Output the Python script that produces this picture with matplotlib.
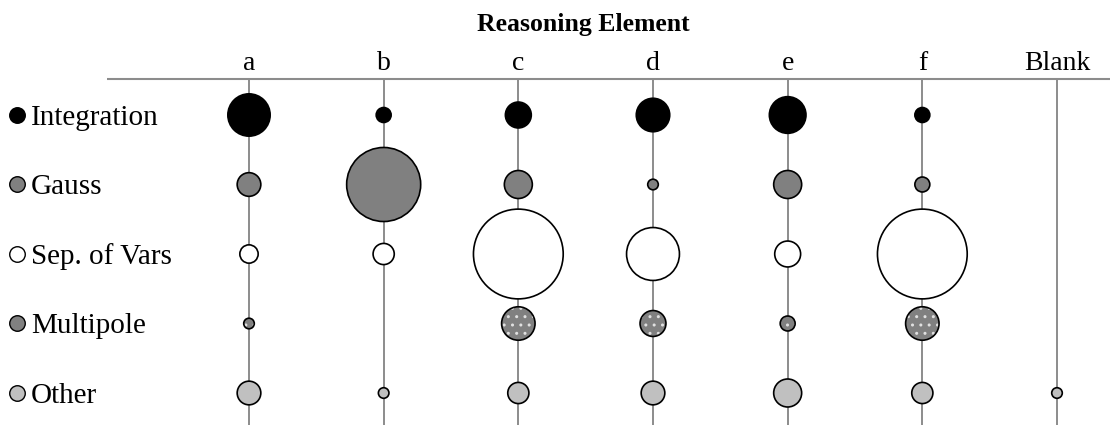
import numpy as np
import matplotlib; matplotlib.use("Agg")
import matplotlib.pyplot as plt

# reasoning elements (columns) and approaches (rows)
elements = ["a", "b", "c", "d", "e", "f", "Blank"]
approaches = ["Integration", "Gauss", "Sep. of Vars", "Multipole", "Other"]

# counts
integration = [16, 2, 6, 10, 12, 2, 0]
gauss = [5, 49, 7, 1, 7, 2, 0]
sep_vars = [3, 4, 72, 25, 6, 72, 0]
multipole = [1, 0, 10, 6, 2, 10, 0]
other = [5, 1, 4, 5, 7, 4, 1]

counts = [integration, gauss, sep_vars, multipole, other]
fills = ["black", "#808080", "white", "#808080", "#c0c0c0"]
hatches = [None, None, None, "..", None]

plt.rcParams["font.family"] = ["Liberation Serif", "DejaVu Serif"]
plt.rcParams["hatch.color"] = "#e0e0e0"
plt.rcParams["hatch.linewidth"] = 1.0

W, H = 1110, 425
fig = plt.figure(figsize=(W / 100, H / 100), dpi=100)
ax = fig.add_axes([0, 0, 1, 1])
ax.set_axis_off()

# map pixel layout: column 0 at x=249, step 134.67; row 0 at y=115, step 69.5
cx0, cdx = 249, (1057 - 249) / 6
ry0, rdy = 115, 69.5
ax.set_xlim(-cx0 / cdx, (W - cx0) / cdx)
ax.set_ylim((H - ry0) / rdy, -ry0 / rdy)
px = lambda x: (x - cx0) / cdx   # pixel x -> column units
py = lambda y: (y - ry0) / rdy   # pixel y -> row units

grey = "#8c8c8c"
ax.plot([px(107), px(W)], [py(79), py(79)], color=grey, lw=1.5, zorder=1, solid_capstyle="butt")
for j, el in enumerate(elements):
    ax.plot([j, j], [py(79), py(H)], color=grey, lw=1.4, zorder=1, solid_capstyle="butt")
    ax.text(j, py(70), el, ha="center", va="baseline", fontsize=20)

ax.text(px(583), py(31), "Reasoning Element", ha="center", va="baseline",
        fontsize=18.5, fontweight="bold")

unit = 58.0   # marker area (pt^2) per count
xs = np.arange(len(elements))
for i, (name, vals) in enumerate(zip(approaches, counts)):
    v = np.array(vals, float)
    m = v > 0
    y = np.full(m.sum(), i)
    if hatches[i]:
        ax.scatter(xs[m], y, s=v[m] * unit, c=fills[i], edgecolors="#e0e0e0",
                   linewidths=0, hatch=hatches[i], zorder=3)
        ax.scatter(xs[m], y, s=v[m] * unit, facecolors="none", edgecolors="black",
                   linewidths=1.2, zorder=4)
    else:
        ax.scatter(xs[m], y, s=v[m] * unit, c=fills[i], edgecolors="black",
                   linewidths=1.2, zorder=3)
    # row label with legend marker
    ax.scatter([px(17)], [i], s=125, c=fills[i], edgecolors="black", linewidths=1.0,
               zorder=3, clip_on=False)
    ax.text(px(31), i + 10 / rdy, name, ha="left", va="baseline", fontsize=21)

fig.savefig("out.png", dpi=100)
